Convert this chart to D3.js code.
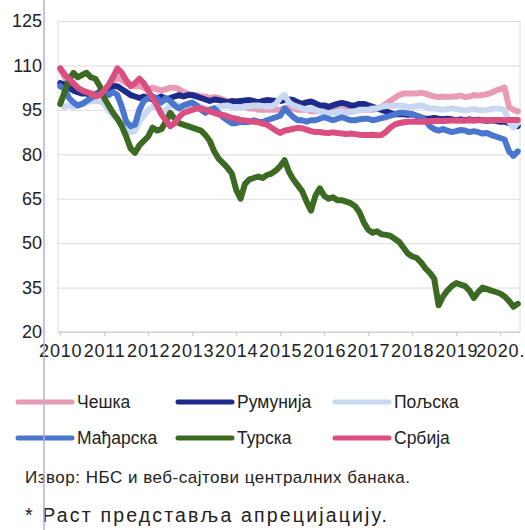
<!DOCTYPE html>
<html>
<head>
<meta charset="utf-8">
<script src="https://cdn.jsdelivr.net/npm/d3@7"></script>
<style>
  body { margin: 0; background: #fff; }
  svg { font-family: "Liberation Sans", Arial, sans-serif; }
</style>
</head>
<body>
<div id="chart"></div>
<script>
// Chart data (index, 0.1-year steps from 2010.0 to 2020.4)
var dates = d3.range(105).map(i => 2010 + i / 10);

var yearTicks = [2010, 2011, 2012, 2013, 2014, 2015, 2016, 2017, 2018, 2019, 2020];
var valueTicks = [20, 35, 50, 65, 80, 95, 110, 125];

var names = ["Чешка", "Румунија", "Пољска", "Мађарска", "Турска", "Србија"];

var czech = [
  109, 106, 104, 103, 102, 101.5, 101, 100.5, 100.5, 101,
  102, 103, 104.5, 106, 105, 104, 103.5, 103, 103, 102.5,
  102, 102.5, 102, 101.5, 102, 102.5, 102.5, 102, 101, 100.5,
  100, 100, 99.5, 99.5, 99, 99.3, 99, 98.5, 98, 97,
  96.5, 96, 96, 95.5, 95.5, 95, 95, 95, 95, 95,
  95, 95.5, 96, 95.5, 95, 95, 95, 94.5, 94.5, 94.5,
  94.5, 94.5, 94.5, 95, 95, 95, 95, 95, 95, 95,
  95, 95, 95.5, 96, 97, 98, 99, 100, 100.5, 100.5,
  100.5, 100.5, 100.8, 100.5, 100, 99.5, 99.3, 99.5, 99.3, 99.5,
  99.5, 99.8, 99.3, 99.5, 100, 99.8, 100, 100.3, 100.8, 101.5,
  102, 102.5, 96, 95, 94.5
];

var romania = [
  104, 103.5, 102.5, 101.5, 101, 100.5, 100.5, 100, 100, 101,
  101.5, 102, 103, 103, 102, 101, 100, 99.5, 99, 99.5,
  99, 98.5, 99, 99.5, 98.5, 99, 99.5, 100, 99.5, 100,
  100, 99.5, 99, 98.5, 98, 98.5, 98.3, 98, 97.5, 98,
  97.8, 98, 98.2, 98.3, 98, 97.5, 98, 98.3, 98.2, 98,
  98, 98.3, 98.5, 98.3, 97.5, 97, 97.5, 97.8, 97.2, 96.5,
  96.5, 96, 96.5, 97, 97.3, 97, 96.5, 96.5, 97, 97,
  96.5, 96, 95.5, 95, 94.5, 94, 93.5, 93.5, 93.5, 93.3,
  93.5, 93, 92.5, 92, 92, 92.3, 92, 91.8, 92, 91.8,
  91.5, 91.8, 91.5, 91.8, 91.5, 91.7, 91.5, 91.3, 91.5, 91.3,
  91, 91, 90.5, 90, 89.5
];

var poland = [
  97, 96, 96.5, 96, 96.5, 97, 97.5, 98, 98, 98,
  97, 95, 93, 92, 90, 88.5, 87.5, 88, 91, 93,
  95, 96, 95.5, 94.5, 95, 96.5, 97, 96.5, 96, 96.5,
  97, 96.5, 96, 95.5, 95, 95.5, 96, 96.3, 96.5, 96,
  96, 95.8, 96, 96.3, 96.5, 96.5, 96.3, 96, 96.2, 97,
  99, 100, 97.5, 96.5, 96, 95.5, 95, 95.5, 95, 94.5,
  94, 93.8, 94, 94.3, 94.5, 94, 94.3, 94.5, 95, 95,
  95, 95.5, 95.5, 96, 96.3, 96.3, 96.5, 96.5, 96.3, 96,
  96, 96.3, 96.5, 96, 95.5, 95.5, 95.3, 95, 95.3, 95.5,
  95.3, 95, 94.8, 95, 95.3, 95, 94.8, 95, 95.3, 95.5,
  95.3, 95, 91, 89, 90.5
];

var hungary = [
  103, 102, 99, 97.5, 96.5, 97, 98, 99, 100, 100.5,
  100.5, 100, 101, 100, 96, 91, 89.5, 90, 95, 98,
  99, 99.5, 99, 97.5, 99, 98, 96.5, 95.5, 96.5, 97,
  97.5, 96.5, 95, 94, 95, 95.5, 94, 92.5, 91.5, 90.5,
  90.5, 91, 90.8, 91, 91.5, 91, 90.8, 91.5, 92, 92.5,
  93, 95.5, 94, 92.5, 91.5, 91.5, 91, 91.5, 91.5, 92,
  92.5, 92, 91.5, 92, 92.5, 92, 91.5, 91.5, 91.8, 92,
  92, 91.5, 91.8, 92.2, 92.5, 93, 93.5, 94, 94, 93.8,
  93.5, 93, 92.5, 91.5, 89.5, 88.5, 88, 88.5, 88, 87.5,
  87.8, 88.2, 88, 87.5, 87.8, 87.5, 87, 87.2, 86.5, 86,
  85.5, 85, 81, 79.5, 81
];

var turkey = [
  97, 101, 105, 107.5, 106, 106.8, 107.5, 106, 105.5, 103,
  99, 96.5, 94, 92, 89.5, 86, 82, 80.5, 83, 84.5,
  86, 89, 88, 88.5, 91, 94, 92, 90.5, 90, 89.5,
  89, 88.5, 88, 86.5, 84.5, 81, 78.5, 77, 75.5, 73.5,
  68, 65, 70, 71.5, 72, 72.5, 72, 73, 73.5, 74.5,
  76, 78, 74, 71.5, 69.5, 67.5, 64, 61, 66, 68.5,
  66, 65, 65.5, 64.5, 64.5, 64, 63.5, 62.5, 60.5, 57,
  54.5, 53.5, 54, 53, 52.8, 52.5, 51.5, 50.5, 48.5, 46.5,
  45.5, 45, 43.5, 41.5, 40, 38, 29, 32, 34, 35.5,
  36.5, 36, 35.5, 34, 31.5, 33.5, 35, 34.5, 34, 33.5,
  33, 32, 30.5, 28.5, 29.5
];

var serbia = [
  109, 107, 105.5, 104, 102.5, 101.5, 101, 100.5, 99.5, 100,
  101.5, 103.5, 106, 109, 107.5, 105, 103, 104, 105.5, 104,
  101.5, 99, 96.5, 93.5, 91.5, 89.5, 90.5, 92.5, 94, 94.5,
  95, 95.5, 95.5, 95, 94.5, 94, 93.5, 93.3, 92.8, 92.3,
  92, 91.6, 91.4, 91.2, 91, 90.8, 90.4, 90, 89, 88,
  87.2, 88, 88.3, 88.6, 88.9, 88.8, 88.3, 87.8, 87.5, 87.5,
  87.3, 87.2, 87.4, 87.2, 87, 86.8, 87, 86.8, 86.6, 86.5,
  86.5, 86.6, 86.4, 86.5, 87.5, 89, 90, 90.5, 90.8, 91,
  91, 91, 91.1, 91, 91.2, 91.2, 91.3, 91.2, 91.3, 91.4,
  91.4, 91.3, 91.4, 91.5, 91.4, 91.5, 91.5, 91.6, 91.5, 91.6,
  91.6, 91.5, 91.6, 91.6, 91.6
];

var seriesValues = [czech, romania, poland, hungary, turkey, serbia];
var colors = ["#e99ab4", "#1d2b8c", "#c8d8f3", "#4a76d0", "#3d6a22", "#da4f80"];

// Chart set up
var svgWidth = 525;
var svgHeight = 530;

var plot = { left: 58, right: 520, top: 21, bottom: 332 };

var svg = d3.select("#chart")
  .append("svg")
  .attr("width", svgWidth)
  .attr("height", svgHeight);

// scales
var xScale = d3.scaleLinear()
  .domain([2009.95, 2020.45])
  .range([plot.left, plot.right]);

var yScale = d3.scaleLinear()
  .domain([20, 125])
  .range([plot.bottom, plot.top]);

// gridlines
svg.append("g")
  .attr("class", "grid")
  .attr("transform", `translate(${plot.left}, 0)`)
  .call(d3.axisLeft(yScale).tickValues(valueTicks).tickSize(-(plot.right - plot.left)).tickFormat(""))
  .call(g => g.select(".domain").remove())
  .selectAll("line")
  .attr("stroke", "#dcdcdc");

// plot border left / right
svg.append("line")
  .attr("x1", plot.left).attr("x2", plot.left)
  .attr("y1", plot.top).attr("y2", plot.bottom)
  .attr("stroke", "#dcdcdc");
svg.append("line")
  .attr("x1", plot.right).attr("x2", plot.right)
  .attr("y1", plot.top).attr("y2", plot.bottom)
  .attr("stroke", "#dcdcdc");

// y axis labels
var leftAxis = svg.append("g")
  .attr("transform", `translate(${plot.left}, 0)`)
  .call(d3.axisLeft(yScale).tickValues(valueTicks).tickSize(0).tickPadding(16));
leftAxis.select(".domain").remove();
leftAxis.selectAll("text")
  .style("font-size", "18px")
  .style("font-family", "Liberation Sans, Arial, sans-serif")
  .attr("fill", "#222");

// x axis
var bottomAxis = svg.append("g")
  .attr("transform", `translate(0, ${plot.bottom})`)
  .call(d3.axisBottom(xScale)
    .tickValues(yearTicks)
    .tickSize(4)
    .tickPadding(8)
    .tickFormat(d => d === 2020 ? d + "." : String(d)));
bottomAxis.select(".domain")
  .attr("d", `M${plot.left},0H${plot.right}`)
  .attr("stroke", "#c8c8c8");
bottomAxis.selectAll("line").attr("stroke", "#c8c8c8");
bottomAxis.selectAll("text")
  .style("font-size", "18px")
  .style("letter-spacing", "0.8px")
  .style("font-family", "Liberation Sans, Arial, sans-serif")
  .attr("fill", "#222");

// lines
var line = d3.line()
  .x((d, i) => xScale(dates[i]))
  .y(d => yScale(d))
  .curve(d3.curveLinear);

svg.append("g")
  .selectAll("path")
  .data(seriesValues)
  .enter()
  .append("path")
  .attr("d", d => line(d))
  .attr("fill", "none")
  .attr("stroke", (d, i) => colors[i])
  .attr("stroke-width", 6)
  .attr("stroke-linejoin", "round")
  .attr("stroke-linecap", "round");

// legend
var legendCols = [18, 178, 335];
var legendRows = [402, 438];

var legend = svg.append("g")
  .selectAll("g")
  .data(names)
  .enter()
  .append("g")
  .attr("transform", (d, i) => `translate(${legendCols[i % 3]}, ${legendRows[Math.floor(i / 3)]})`);

legend.append("line")
  .attr("x1", 0).attr("x2", 54)
  .attr("y1", 0).attr("y2", 0)
  .attr("stroke", (d, i) => colors[i])
  .attr("stroke-width", 5)
  .attr("stroke-linecap", "round");

legend.append("text")
  .attr("x", 59)
  .attr("y", 6)
  .style("font-size", "17.5px")
  .attr("fill", "#222")
  .text(d => d);

// notes
svg.append("text")
  .attr("x", 25)
  .attr("y", 483)
  .attr("textLength", 385)
  .attr("lengthAdjust", "spacing")
  .style("font-size", "17px")
  .attr("fill", "#222")
  .text("Извор: НБС и веб-сајтови централних банака.");

svg.append("text")
  .attr("x", 25)
  .attr("y", 522)
  .attr("textLength", 362)
  .attr("lengthAdjust", "spacing")
  .style("font-size", "19.5px")
  .attr("fill", "#222")
  .text("* Раст представља апрецијацију.");

// vertical page line
svg.append("line")
  .attr("x1", 44).attr("x2", 44)
  .attr("y1", 0).attr("y2", svgHeight)
  .attr("stroke", "#b7aedf")
  .attr("stroke-width", 1.5);
</script>
</body>
</html>
